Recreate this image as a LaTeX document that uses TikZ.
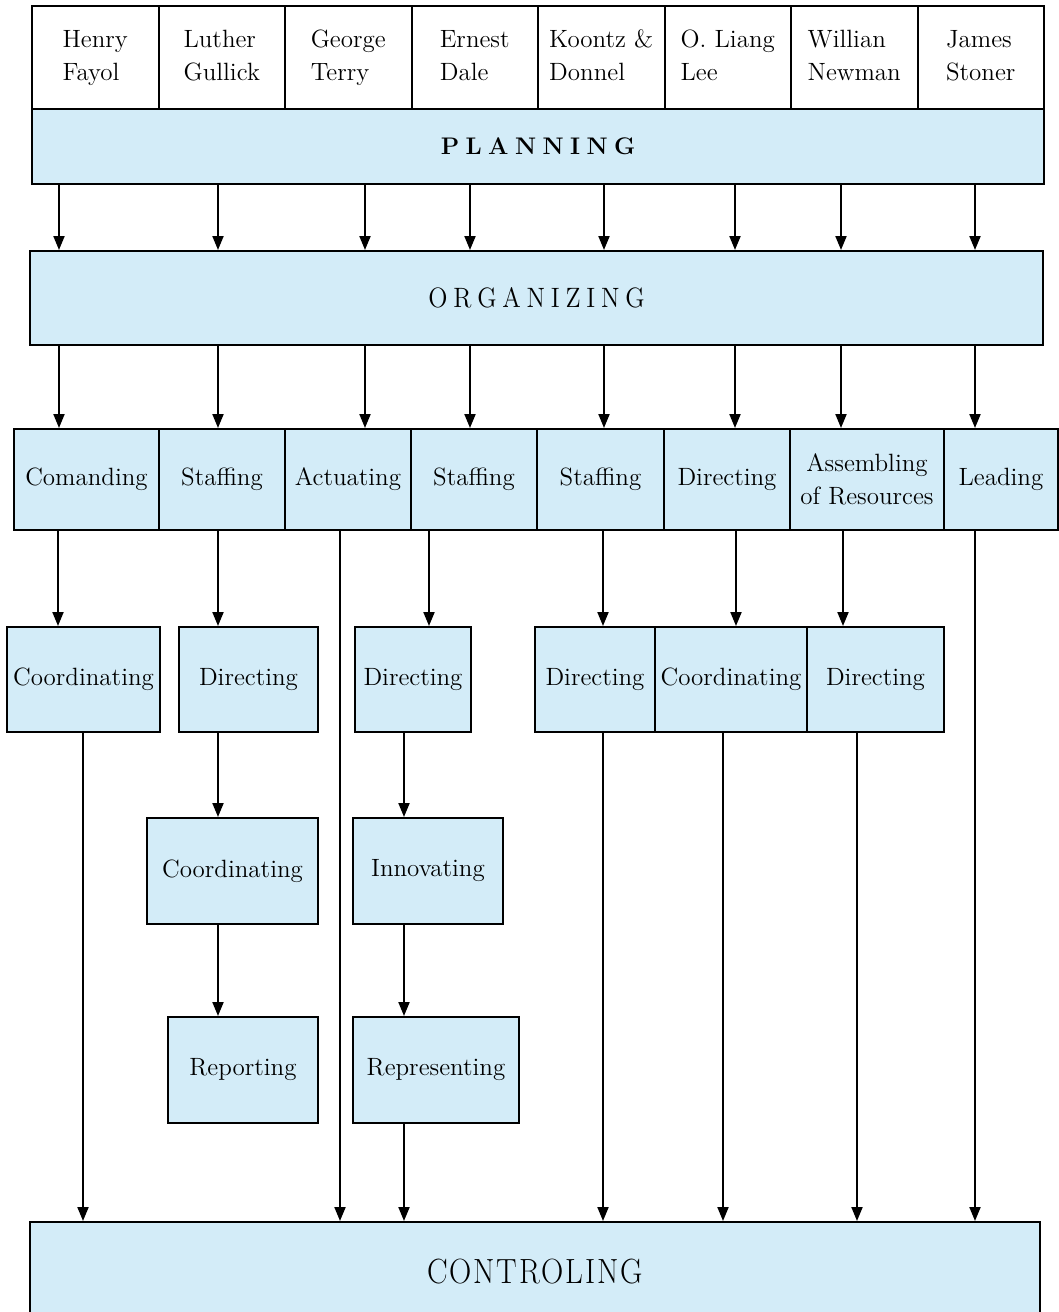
\documentclass[tikz,border=0pt]{standalone}
\usepackage{tikz}
\usepackage{graphicx}
\usetikzlibrary{arrows.meta, calc, positioning}
\definecolor{boxblue}{RGB}{211,236,248}
\newcommand{\letgap}{\hspace{3.2pt}}

\begin{document}
\begin{tikzpicture}[x=0.5pt,y=-0.5pt,
	every node/.style={font=\fontsize{12.5}{16.5}\selectfont},
	box/.style={draw,line width=1pt,fill=boxblue,inner sep=0pt,align=center},
	namebox/.style={draw,line width=1pt,fill=white,inner sep=0pt,align=left,minimum width=63.25pt,minimum height=51.5pt},
	>={Triangle[length=7pt,width=5.5pt]},
	link/.style={->,line width=1pt}]
	\useasboundingbox (0,0) rectangle (1059,1312);
	\clip (0,0) rectangle (1059,1312);
	% authors
	\foreach \t [count=\i] in {{Henry\\Fayol},{Luther\\Gullick},{George\\Terry},{Ernest\\Dale},{Koontz \&\\Donnel},{O. Liang\\Lee},{Willian\\Newman},{James\\Stoner}}
		\node[namebox] (name\i) at ({32+126.5*(\i-0.5)},57.5) {\strut\t\strut};
	% main stages
	\node[box,minimum width=506pt,minimum height=37.5pt,font=\bfseries\fontsize{12}{14}\selectfont] (plan) at (538,146.5) {P\letgap L\letgap A\letgap N\letgap N\letgap I\letgap N\letgap G};
	\node[box,minimum width=506.5pt,minimum height=47pt,font=\fontsize{14}{16}\selectfont] (org) at (536.5,298) {\scalebox{0.9}[1]{O\letgap R\letgap G\letgap A\letgap N\letgap I\letgap Z\letgap I\letgap N\letgap G}};
	\node[box,minimum width=505pt,minimum height=50pt] (control) at (535,1272) {\scalebox{0.88}[1]{\fontsize{17.5}{20}\selectfont C\hspace{1pt}O\hspace{1pt}N\hspace{1pt}T\hspace{1pt}R\hspace{1pt}O\hspace{1pt}L\hspace{1pt}I\hspace{1pt}N\hspace{1pt}G}};
	% third row
	\node[box,minimum width=72.5pt,minimum height=50.5pt] (comand) at (86.5,479.5) {Comanding};
	\node[box,minimum width=63pt,minimum height=50.5pt] (staffA) at (222,479.5) {Staffing};
	\node[box,minimum width=63pt,minimum height=50.5pt] (actuate) at (348,479.5) {Actuating};
	\node[box,minimum width=63pt,minimum height=50.5pt] (staffB) at (474,479.5) {Staffing};
	\node[box,minimum width=63.5pt,minimum height=50.5pt] (staffC) at (600.5,479.5) {Staffing};
	\node[box,minimum width=63pt,minimum height=50.5pt] (direct) at (727,479.5) {Directing};
	\node[box,minimum width=77pt,minimum height=50.5pt] (assemble) at (867,479.5) {Assembling\\of Resources};
	\node[box,minimum width=57pt,minimum height=50.5pt] (lead) at (1001,479.5) {Leading};
	% fourth row
	\node[box,minimum width=76.5pt,minimum height=52.5pt] (coordA) at (83.5,679.5) {Coordinating};
	\node[box,minimum width=69.5pt,minimum height=52.5pt] (dirA) at (248.5,679.5) {Directing};
	\node[box,minimum width=58pt,minimum height=52.5pt] (dirB) at (413,679.5) {Directing};
	\node[box,minimum width=60pt,minimum height=52.5pt] (dirC) at (595,679.5) {Directing};
	\node[box,minimum width=76pt,minimum height=52.5pt] (coordB) at (731,679.5) {Coordinating};
	\node[box,minimum width=68.5pt,minimum height=52.5pt] (dirD) at (875.5,679.5) {Directing};
	% fifth and sixth rows
	\node[box,minimum width=85.5pt,minimum height=53pt] (coordC) at (232.5,871) {Coordinating};
	\node[box,minimum width=75pt,minimum height=53pt] (innov) at (428,871) {Innovating};
	\node[box,minimum width=75pt,minimum height=53pt] (report) at (243,1070) {Reporting};
	\node[box,minimum width=83pt,minimum height=53pt] (repr) at (436,1070) {Representing};
	% arrows
	\foreach \x in {59,218,365,470,604,735,841,975}{
		\draw[link] (plan.south -| \x,0) -- (org.north -| \x,0);
		\draw[link] (org.south -| \x,0) -- (comand.north -| \x,0);
	}
	\draw[link] (comand.south -| 58,0) -- (coordA.north -| 58,0);
	\draw[link] (staffA.south -| 218,0) -- (dirA.north -| 218,0);
	\draw[link] (actuate.south -| 340,0) -- (control.north -| 340,0);
	\draw[link] (staffB.south -| 429,0) -- (dirB.north -| 429,0);
	\draw[link] (staffC.south -| 603,0) -- (dirC.north -| 603,0);
	\draw[link] (direct.south -| 736,0) -- (coordB.north -| 736,0);
	\draw[link] (assemble.south -| 843,0) -- (dirD.north -| 843,0);
	\draw[link] (lead.south -| 975,0) -- (control.north -| 975,0);
	\draw[link] (dirA.south -| 218,0) -- (coordC.north -| 218,0);
	\draw[link] (coordC.south -| 218,0) -- (report.north -| 218,0);
	\draw[link] (dirB.south -| 404,0) -- (innov.north -| 404,0);
	\draw[link] (innov.south -| 404,0) -- (repr.north -| 404,0);
	\draw[link] (coordA.south -| 83,0) -- (control.north -| 83,0);
	\draw[link] (repr.south -| 404,0) -- (control.north -| 404,0);
	\draw[link] (dirC.south -| 603,0) -- (control.north -| 603,0);
	\draw[link] (coordB.south -| 723,0) -- (control.north -| 723,0);
	\draw[link] (dirD.south -| 857,0) -- (control.north -| 857,0);
\end{tikzpicture}
\end{document}
